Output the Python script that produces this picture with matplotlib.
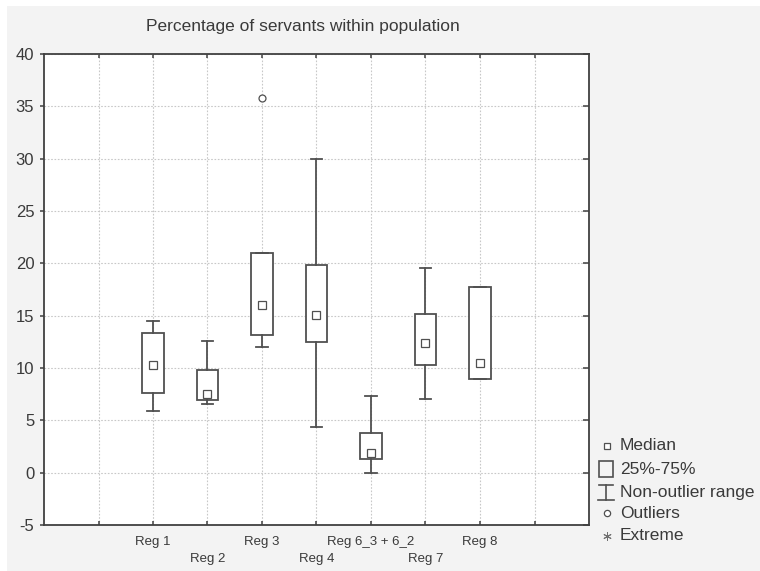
import matplotlib.pyplot as plt
from matplotlib.patches import Rectangle
from matplotlib.lines import Line2D

plt.rcParams["font.family"] = ["Liberation Sans", "DejaVu Sans"]
plt.rcParams["axes.unicode_minus"] = False

# Box plot summary values
regions = ["Reg 1", "Reg 2", "Reg 3", "Reg 4", "Reg 6_3 + 6_2", "Reg 7", "Reg 8"]
medians = [10.3, 7.5, 16.05, 15.1, 1.9, 12.4, 10.45]
q1 = [7.65, 6.95, 13.2, 12.5, 1.3, 10.25, 8.95]
q3 = [13.3, 9.8, 21.0, 19.8, 3.8, 15.15, 17.75]
whisker_low = [5.9, 6.6, 12.0, 4.35, 0.0, 7.05, 8.95]
whisker_high = [14.5, 12.6, 21.0, 29.95, 7.3, 19.6, 17.75]
outliers = [[], [], [35.8], [], [], [], []]
positions = [2, 3, 4, 5, 6, 7, 8]

line_col = "#505050"
text_col = "#3a3a3a"
grid_col = "#c8c8c8"
bg_col = "#f3f3f3"

fig = plt.figure(figsize=(7.6, 5.71), dpi=100, facecolor="white")
fig.patches.append(Rectangle((7 / 760, -0.01), 1.1, (571 - 6) / 571 + 0.01, transform=fig.transFigure,
                             facecolor=bg_col, edgecolor="none", zorder=-10))
ax = fig.add_axes([44 / 760, 46 / 571, (589 - 44) / 760, (525 - 54) / 571])
ax.set_facecolor("white")

stats = []
for i in range(len(regions)):
    stats.append({
        "med": medians[i], "q1": q1[i], "q3": q3[i],
        "whislo": whisker_low[i], "whishi": whisker_high[i],
        "fliers": outliers[i], "label": regions[i],
    })

ax.bxp(stats, positions=positions, widths=0.4, capwidths=0.22, patch_artist=True,
       boxprops=dict(facecolor="white", edgecolor=line_col, linewidth=1.3),
       whiskerprops=dict(color=line_col, linewidth=1.3),
       capprops=dict(color=line_col, linewidth=1.3),
       medianprops=dict(visible=False),
       flierprops=dict(marker="o", markersize=5, markerfacecolor="white",
                       markeredgecolor=line_col, markeredgewidth=0.9),
       zorder=3)
ax.plot(positions, medians, linestyle="none", marker="s", markersize=5.5,
        markerfacecolor="white", markeredgecolor=line_col, markeredgewidth=0.9, zorder=4)

ax.set_xlim(0, 10)
ax.set_ylim(-5, 40)
ax.set_yticks(range(-5, 41, 5))
ax.set_xticks(range(1, 10))
ax.set_xticklabels([])
ax.grid(True, color=grid_col, linestyle=(0, (1.5, 1.5)), linewidth=0.8, zorder=0)
ax.set_axisbelow(True)

for s in ax.spines.values():
    s.set_color("#404040")
    s.set_linewidth(1.3)

ax.tick_params(axis="y", left=True, right=True, direction="out", length=3, width=1.1,
               color="#404040", labelsize=12, labelcolor=text_col, pad=4)
for t in ax.yaxis.get_major_ticks():
    t.tick2line.set_marker(0)  # inward on right side
    t.tick2line.set_markersize(4)
ax.tick_params(axis="x", top=True, bottom=True, direction="in", length=3, width=1.1,
               color="#404040")

# staggered category labels
for i, (p, name) in enumerate(zip(positions, regions)):
    off = 17 if i % 2 == 0 else 34
    ax.annotate(name, xy=(p, 0), xycoords=("data", "axes fraction"),
                xytext=(0, -off), textcoords="offset pixels", ha="center", va="center",
                fontsize=9.5, color=text_col)

fig.text(303 / 760, 1 - 26 / 571, "Percentage of servants within population",
         ha="center", va="center", fontsize=12.5, color=text_col)

# legend drawn by hand
lx, tx = 607 / 760, 620 / 760
ys = [446, 469, 492, 513, 536]
yf = [1 - y / 571 for y in ys]
fig.add_artist(Line2D([lx], [yf[0]], marker="s", markersize=4.5, markerfacecolor="white",
                      markeredgecolor=line_col, markeredgewidth=0.9, transform=fig.transFigure))
fig.add_artist(Rectangle((599 / 760, 1 - 477 / 571), 14 / 760, 16 / 571, transform=fig.transFigure,
                         facecolor="none", edgecolor=line_col, linewidth=1.2))
for xs, yv in [((599, 613), (485, 485)), ((598, 614), (500, 500)), ((606, 606), (485, 500))]:
    fig.add_artist(Line2D([x / 760 for x in xs], [1 - y / 571 for y in yv], color=line_col,
                          linewidth=1.2, transform=fig.transFigure))
fig.add_artist(Line2D([lx], [yf[3]], marker="o", markersize=4.5, markerfacecolor="white",
                      markeredgecolor=line_col, markeredgewidth=0.9, transform=fig.transFigure))
fig.add_artist(Line2D([lx], [yf[4]], marker=(6, 2, 0), markersize=6,
                      markeredgecolor="#707070", markeredgewidth=0.7, transform=fig.transFigure))
for y, label in zip(yf, ["Median", "25%-75%", "Non-outlier range", "Outliers", "Extreme"]):
    fig.text(tx, y, label, ha="left", va="center", fontsize=12.5, color=text_col)

fig.savefig("out.png", dpi=100, facecolor=fig.get_facecolor())
